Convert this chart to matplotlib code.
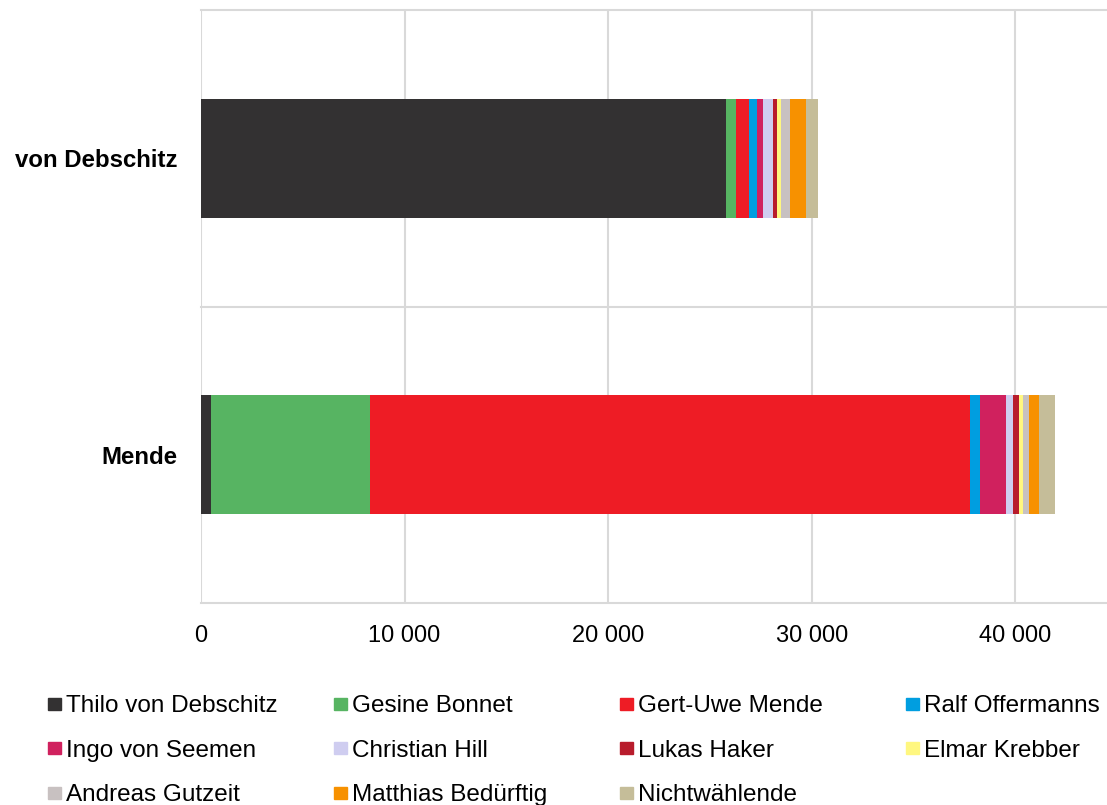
import matplotlib.pyplot as plt
from matplotlib.patches import Rectangle

plt.rcParams['font.family'] = ['Liberation Sans', 'DejaVu Sans']

# Kandidaten (Stichwahl), Stimmen nach Herkunft
candidates = ["Mende", "von Debschitz"]
sources = ["Thilo von Debschitz", "Gesine Bonnet", "Gert-Uwe Mende", "Ralf Offermanns",
           "Ingo von Seemen", "Christian Hill", "Lukas Haker", "Elmar Krebber",
           "Andreas Gutzeit", "Matthias Bedürftig", "Nichtwählende"]
colors = ["#333132", "#57b462", "#ee1c25", "#009ee0", "#d0215e", "#cfcdf0",
          "#b81c2c", "#fff780", "#c8c1c1", "#f79100", "#c5bd99"]

# Werte je Herkunft: [Mende, von Debschitz]
values = {
    "Thilo von Debschitz": [490, 25770],
    "Gesine Bonnet": [7820, 525],
    "Gert-Uwe Mende": [29450, 605],
    "Ralf Offermanns": [505, 410],
    "Ingo von Seemen": [1290, 280],
    "Christian Hill": [310, 505],
    "Lukas Haker": [295, 195],
    "Elmar Krebber": [195, 195],
    "Andreas Gutzeit": [310, 425],
    "Matthias Bedürftig": [490, 785],
    "Nichtwählende": [800, 605],
}

fig = plt.figure(figsize=(11.07, 8.05), dpi=100)
ax = fig.add_axes([0.1816, 0.2509, 0.8184, 0.7367])

y = list(range(len(candidates)))
left = [0] * len(candidates)
for name, col in zip(sources, colors):
    vals = values[name]
    ax.barh(y, vals, left=left, height=0.4, color=col, zorder=3)
    left = [l + v for l, v in zip(left, vals)]

ax.set_xlim(0, 44500)
ax.set_ylim(-0.5, len(candidates) - 0.5)
ax.set_xticks([0, 10000, 20000, 30000, 40000])
ax.set_xticklabels(["0", "10 000", "20 000", "30 000", "40 000"])
ax.set_yticks(y)
ax.set_yticklabels(candidates, fontweight="bold")
ax.tick_params(axis="x", length=0, pad=16, labelsize=17)
ax.tick_params(axis="y", length=0, pad=17, labelsize=17.3)
for s in ax.spines.values():
    s.set_visible(False)

ax.grid(axis="x", color="#d9d9d9", linewidth=1.5, zorder=0)
for b in [-0.5, 0.5, 1.5]:
    ax.axhline(b, color="#d9d9d9", linewidth=1.5, zorder=0, clip_on=False)

# Legende als Raster mit 4 Spalten
W, H = 1107, 805
for i, (name, col) in enumerate(zip(sources, colors)):
    r, c = divmod(i, 4)
    x0 = 48 + c * 286
    yc = 703.5 + r * 44.5
    fig.add_artist(Rectangle((x0 / W, 1 - (yc + 6) / H), 13 / W, 12 / H,
                             transform=fig.transFigure, color=col))
    fig.text((x0 + 18) / W, 1 - (yc + 8.5) / H, name, fontsize=17.5,
             va="baseline", ha="left")

fig.savefig("out.png", dpi=100)
